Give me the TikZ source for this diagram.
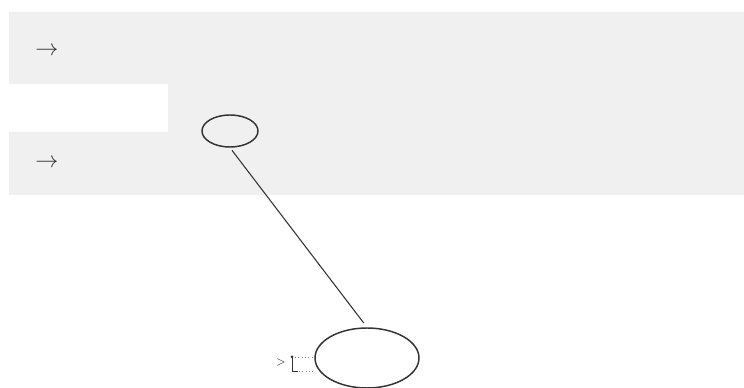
\documentclass[tikz,border=0pt]{standalone}
\usetikzlibrary{shapes.geometric}
\definecolor{band}{HTML}{F0F0F0}
\definecolor{ink}{HTML}{333333}
\begin{document}
\begin{tikzpicture}[x=0.75pt,y=-0.75pt,
  ring/.style={ellipse,draw=ink,line width=1.1pt,inner sep=0pt},
  arr/.style={text=ink,inner sep=0pt,font=\LARGE},
  conn/.style={draw=ink,line width=0.8pt},
  dots/.style={draw=ink!60,line width=0.5pt,dotted}]
\useasboundingbox (0,0) rectangle (744,388);
\fill[white] (0,0) rectangle (744,388);
% scanned grey band with white notch
\fill[band] (9,12) -- (744,12) -- (744,195) -- (9,195) -- (9,132) -- (168,132) -- (168,84) -- (9,84) -- cycle;
% arrows
\node[arr] (a1) at (47,51) {$\rightarrow$};
\node[arr] (a2) at (47,163) {$\rightarrow$};
% ellipses
\node[ring,minimum width=42pt,minimum height=24pt] (small) at (230,131) {};
\node[ring,minimum width=78pt,minimum height=45pt] (big) at (367,358) {};
\draw[conn,shorten <=2.5pt,shorten >=4pt] (small.south) -- (big.north);
% small mark left of big ellipse
\coordinate (itop) at (292,357);
\coordinate (ibot) at (292,371);
\draw[ink,line width=0.7pt] (itop) -- (ibot) -- ++(6,0);
\fill[ink] (itop) circle (1.5);
\node[text=ink,inner sep=0pt,font=\small] (gt) at (281,363) {$>$};
\draw[dots] (itop) ++(3,0) -- (big.west |- itop);
\draw[dots] (ibot) ++(7,0) -- (big.west |- ibot);
\end{tikzpicture}
\end{document}
